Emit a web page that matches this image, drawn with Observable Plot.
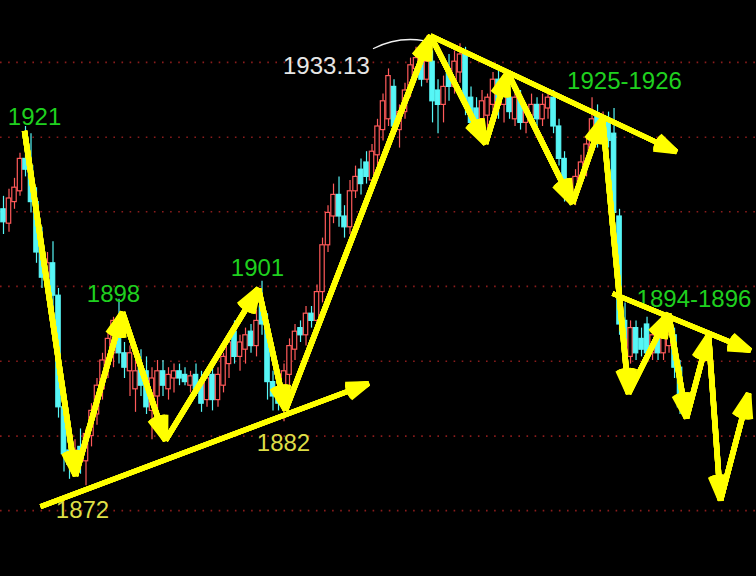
<!DOCTYPE html>
<html>
<head>
<meta charset="utf-8">
<script src="https://cdn.jsdelivr.net/npm/d3@7"></script>
<script src="https://cdn.jsdelivr.net/npm/@observablehq/plot@0.6"></script>
<style>
  html, body { margin: 0; padding: 0; background: #000; }
  #chart { width: 756px; height: 576px; overflow: hidden; }
  svg { display: block; }
</style>
</head>
<body>
<div id="chart"></div>
<script>
// ---- Candles (index order), prices ----
const opens = [
  1909.0,1907.0,1910.0,1911.5,1916.0,1915.0,1910.0,1903.0,1899.5,1901.5,
  1897.0,1881.5,1875.5,1873.0,1876.0,1874.0,1877.5,1880.5,1884.0,1887.5,
  1889.0,1893.5,1889.0,1886.5,1884.0,1887.0,1886.5,1881.0,1883.0,1886.5,
  1884.0,1885.5,1886.5,1886.0,1884.5,1886.0,1885.0,1882.5,1886.0,1882.5,
  1884.5,1887.5,1892.0,1888.5,1889.5,1892.0,1890.0,1895.5,1893.0,1885.0,
  1884.0,1882.0,1886.0,1889.5,1892.5,1891.5,1894.5,1893.5,1897.5,1904.0,
  1908.0,1911.0,1908.0,1906.5,1911.5,1914.5,1915.5,1913.0,1916.5,1920.0,
  1921.5,1926.0,1920.0,1922.5,1925.5,1928.5,1930.0,1927.0,1929.5,1925.5,
  1923.5,1928.5,1926.0,1928.0,1930.5,1924.5,1923.0,1921.5,1922.0,1923.5,
  1927.0,1923.5,1924.5,1921.5,1924.5,1921.0,1922.0,1923.5,1921.5,1923.0,
  1924.5,1920.5,1916.0,1911.5,1910.5,1913.0,1915.0,1917.5,1922.0,1919.0,
  1921.0,1919.5,1908.0,1893.5,1888.5,1892.5,1891.0,1893.0,1889.0,1891.5,
  1889.0,1890.0,1891.5,1887.0
];
const highs = [
  1910.8,1911.8,1913.3,1916.8,1920.5,1919.5,1912.0,1906.5,1903.0,1904.5,
  1898.0,1883.5,1878.0,1877.0,1878.5,1878.5,1882.0,1885.5,1889.0,1892.0,
  1894.0,1896.5,1890.5,1890.0,1888.0,1889.5,1888.5,1887.0,1888.0,1888.0,
  1887.0,1887.5,1887.5,1887.0,1886.5,1887.5,1886.5,1886.5,1888.0,1887.0,
  1889.0,1891.5,1893.5,1891.5,1892.5,1893.0,1895.0,1899.0,1894.5,1886.5,
  1885.5,1887.5,1891.0,1893.0,1893.5,1895.5,1895.5,1898.5,1905.0,1909.5,
  1912.5,1913.5,1909.5,1913.0,1915.0,1916.0,1917.0,1918.0,1921.5,1925.0,
  1928.5,1927.0,1923.5,1926.5,1930.0,1931.5,1931.5,1933.1,1931.0,1927.0,
  1927.5,1930.5,1931.0,1932.0,1931.5,1926.0,1924.5,1925.5,1925.0,1928.0,
  1929.0,1926.5,1926.0,1925.5,1925.5,1923.5,1925.0,1924.5,1925.0,1925.5,
  1925.5,1921.5,1917.0,1913.0,1914.5,1916.5,1919.0,1924.5,1923.5,1922.5,
  1922.5,1923.0,1909.0,1896.0,1893.5,1893.5,1892.5,1894.0,1892.0,1892.5,
  1892.0,1893.0,1892.5,1888.0
];
const lows = [
  1905.5,1905.8,1909.0,1910.8,1913.5,1908.5,1901.5,1898.0,1897.5,1895.0,
  1880.0,1872.5,1871.5,1872.0,1872.2,1870.6,1876.0,1879.0,1882.5,1885.5,
  1887.0,1887.5,1885.5,1883.0,1880.8,1883.0,1880.5,1877.0,1880.0,1883.0,
  1882.5,1883.5,1884.5,1884.5,1883.5,1883.0,1880.8,1881.5,1881.0,1881.5,
  1883.5,1885.5,1887.5,1886.5,1887.5,1889.0,1888.5,1891.5,1882.5,1881.0,
  1881.0,1879.5,1884.5,1888.0,1890.5,1890.0,1892.5,1892.0,1896.0,1903.0,
  1907.0,1906.5,1905.0,1905.5,1910.5,1911.0,1912.5,1912.0,1915.0,1918.5,
  1920.5,1919.5,1917.5,1921.5,1924.5,1927.5,1926.0,1926.5,1921.0,1919.5,
  1921.0,1924.0,1925.0,1926.5,1922.0,1919.5,1920.0,1920.0,1919.5,1922.0,
  1921.5,1921.0,1921.5,1920.5,1920.0,1919.5,1920.5,1920.0,1920.5,1921.5,
  1919.5,1915.0,1910.0,1909.5,1909.5,1912.0,1913.5,1916.5,1917.5,1918.0,
  1917.5,1907.0,1891.5,1889.0,1887.5,1888.0,1888.5,1888.0,1888.0,1888.0,
  1888.0,1889.0,1885.5,1880.5
];
const closes = [
  1907.2,1910.5,1912.0,1916.0,1914.5,1910.0,1903.0,1899.5,1901.5,1897.0,
  1881.5,1875.0,1873.5,1875.5,1874.0,1877.8,1881.0,1884.5,1888.0,1891.0,
  1893.5,1889.0,1887.0,1889.0,1886.5,1884.5,1881.5,1885.5,1886.5,1884.5,
  1886.0,1886.5,1885.5,1885.0,1885.8,1884.0,1882.0,1885.5,1882.5,1886.0,
  1888.5,1890.5,1888.5,1890.5,1891.5,1890.0,1893.5,1893.0,1885.0,1883.0,
  1882.0,1886.5,1890.0,1892.0,1891.5,1894.5,1893.5,1897.5,1904.0,1908.5,
  1911.0,1908.0,1906.5,1911.5,1913.5,1912.5,1913.5,1917.0,1920.5,1924.0,
  1927.5,1920.5,1922.5,1925.5,1929.0,1930.0,1927.0,1929.5,1924.0,1923.5,
  1926.0,1926.0,1929.5,1930.5,1923.5,1921.0,1921.5,1924.0,1924.5,1927.0,
  1923.5,1925.0,1922.5,1924.5,1921.0,1922.5,1923.5,1921.5,1923.5,1924.5,
  1920.5,1916.0,1911.5,1910.5,1913.5,1915.5,1918.0,1921.5,1919.0,1921.0,
  1918.5,1908.5,1893.0,1890.0,1892.5,1889.0,1889.5,1889.0,1891.5,1889.0,
  1891.0,1891.5,1887.0,1881.5
];

// ---- Dotted price grid levels ----
const gridLevels = [1929.4, 1919.0, 1908.65, 1898.3, 1887.9, 1877.5, 1867.15];

// ---- Wave pivots (candle index, price) joined by arrows ----
const zigIndex = [3.82, 13.09, 21.64, 29.45, 46.36, 51.27, 77.64, 87.64, 91.64, 103.45, 108.91, 113.64, 120.91, 124.18, 128.18, 130.36, 135.45];
const zigPrice = [1919.9, 1872.0, 1894.7, 1876.9, 1898.0, 1881.1, 1933.1, 1918.1, 1928.0, 1909.8, 1921.6, 1883.4, 1894.5, 1880.0, 1891.5, 1868.6, 1883.4];

// ---- Trend lines (start index, start price, end index, end price) ----
const trendStartIndex = [6.73, 77.64, 110.73];
const trendStartPrice = [1867.7, 1933.1, 1897.3];
const trendEndIndex = [66.36, 122.36, 135.8];
const trendEndPrice = [1884.8, 1917.0, 1889.4];

// ---- Labels ----
const labelText  = ["1921", "1898", "1901", "1925-1926", "1894-1896", "1933.13", "1872", "1882"];
const labelIndex = [5.64, 20.0, 46.18, 112.9, 115.1, 58.7, 14.36, 50.9];
const labelPrice = [1921.75, 1897.2, 1900.8, 1926.75, 1896.5, 1928.9, 1867.2, 1876.5];
const labelKind  = ["green", "green", "green", "green", "green", "white", "yellow", "yellow"];
const labelAnchor = ["middle", "middle", "middle", "middle", "start", "middle", "middle", "middle"];

// connector from "1933.13" to the high
const connIndex = [67.27, 76.36];
const connPrice = [1931.33, 1932.44];

// ---- build tables ----
const candles = opens.map((o, i) => ({
  i, o, h: highs[i], l: lows[i], c: closes[i], up: closes[i] >= o
}));
const zig = zigIndex.slice(1).map((_, k) => ({
  x1: zigIndex[k], y1: zigPrice[k], x2: zigIndex[k + 1], y2: zigPrice[k + 1]
}));
const trends = trendStartIndex.map((_, k) => ({
  x1: trendStartIndex[k], y1: trendStartPrice[k], x2: trendEndIndex[k], y2: trendEndPrice[k]
}));
const labels = labelText.map((t, k) => ({
  t, x: labelIndex[k], y: labelPrice[k], kind: labelKind[k], anchor: labelAnchor[k]
}));
const colorOf = {green: "#1fd01f", white: "#e6e6e6", yellow: "#dede46"};

const RED = "#ff5a5a", CYAN = "#56f6f6", YEL = "#ffff00";
const bodyHalf = 0.4;
const textOpts = {x: "x", y: "y", text: "t", fill: d => colorOf[d.kind], fontSize: 24,
  fontFamily: "Liberation Sans, Arial, sans-serif"};

// solid-looking arrowheads: overlay chevrons with several opening angles
const headAngles = [6, 14, 22, 30, 38];
const arrowMarks = (data, sw) => headAngles.map(a =>
  Plot.arrow(data, {x1: "x1", y1: "y1", x2: "x2", y2: "y2", stroke: YEL, strokeWidth: sw,
    headLength: 7, headAngle: a, strokeLinecap: "butt"}));

const chart = Plot.plot({
  width: 756,
  height: 576,
  margin: 0,
  x: {domain: [-0.545, 136.9], axis: null},
  y: {domain: [1858, 1938], axis: null},
  style: {background: "#000", overflow: "hidden"},
  marks: [
    Plot.ruleY(gridLevels, {stroke: "#8a1c1c", strokeWidth: 1.6, strokeDasharray: "1.6,6.5"}),
    Plot.ruleX(candles, {x: "i", y1: "l", y2: "h", stroke: d => d.up ? RED : CYAN, strokeWidth: 1.2}),
    Plot.rect(candles, {
      x1: d => d.i - bodyHalf, x2: d => d.i + bodyHalf,
      y1: d => Math.min(d.o, d.c) - (Math.abs(d.o - d.c) < 0.2 ? 0.1 : 0),
      y2: d => Math.max(d.o, d.c) + (Math.abs(d.o - d.c) < 0.2 ? 0.1 : 0),
      fill: d => d.up ? "#000" : CYAN,
      stroke: d => d.up ? RED : CYAN,
      strokeWidth: 1.2
    }),
    Plot.arrow([{x1: connIndex[0], y1: connPrice[0], x2: connIndex[1], y2: connPrice[1]}], {
      x1: "x1", y1: "y1", x2: "x2", y2: "y2", bend: 18, headLength: 0, stroke: "#f0f0f0", strokeWidth: 1.3
    }),
    Plot.text(labels.filter(d => d.anchor === "middle"), {...textOpts, textAnchor: "middle"}),
    Plot.text(labels.filter(d => d.anchor === "start"), {...textOpts, textAnchor: "start"}),
    ...arrowMarks(trends, 5),
    ...arrowMarks(zig, 5.5)
  ]
});
document.getElementById("chart").appendChild(chart);
</script>
</body>
</html>
